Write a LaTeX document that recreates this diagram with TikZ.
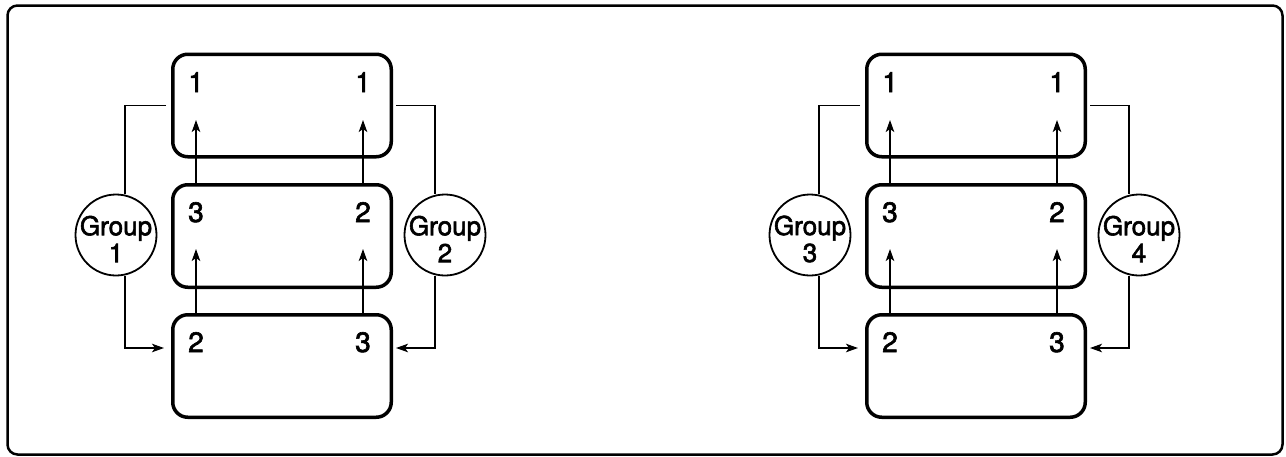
\documentclass[tikz,border=0pt]{standalone}
\usepackage{fontspec}
\setmainfont{TeX Gyre Heros}
\newfontfamily\lblfont[FakeBold=2.2]{TeX Gyre Heros}
\usetikzlibrary{arrows.meta}
\tikzset{
  box/.style={draw, line width=3.5pt, rounded corners=15pt, minimum width=218.5pt, minimum height=102.5pt, inner sep=0pt},
  digit/.style={font=\lblfont\fontsize{28}{28}\selectfont, anchor=base, inner sep=0pt},
  grp/.style={draw, circle, line width=1.8pt, minimum size=81pt, inner sep=0pt, fill=white},
  grptext/.style={font=\lblfont\fontsize{26}{27}\selectfont, align=center, inner sep=0pt},
  arr/.style={line width=1.5pt, -{Stealth[length=12pt,width=8.5pt,inset=3pt]}},
  conn/.style={line width=1.5pt},
  frame/.style={line width=2.5pt, rounded corners=10pt}
}
\newcommand\drawpanel[4]{%
\begin{scope}[xshift=#2pt]
  \node[box] (#1top) at (282,105.5) {};
  \node[box] (#1mid) at (282,236) {};
  \node[box] (#1bot) at (282,366) {};
  \node[digit] (#1tl) at (196,92) {1};
  \node[digit] (#1tr) at (363,92) {1};
  \node[digit] (#1ml) at (196,222) {3};
  \node[digit] (#1mr) at (363,222) {2};
  \node[digit] (#1bl) at (196,352) {2};
  \node[digit] (#1br) at (363,352) {3};
  \coordinate (#1atl) at (196,120);
  \coordinate (#1atr) at (363,120);
  \coordinate (#1aml) at (196,249);
  \coordinate (#1amr) at (363,249);
  \draw[arr] (#1mid.north -| #1atl) -- (#1atl);
  \draw[arr] (#1mid.north -| #1atr) -- (#1atr);
  \draw[arr] (#1bot.north -| #1aml) -- (#1aml);
  \draw[arr] (#1bot.north -| #1amr) -- (#1amr);
  \node[grp] (#1g1) at (116,235) {};
  \node[grptext] (#1g1t) at (116,239) {Group\\#3};
  \node[grp] (#1g2) at (445,235) {};
  \node[grptext] (#1g2t) at (445,239) {Group\\#4};
  \draw[conn] ([xshift=-5pt]#1top.west) -| ([xshift=9pt]#1g1.north);
  \draw[conn,arr] ([xshift=9pt]#1g1.south) |- ([xshift=-7pt,yshift=18pt]#1bot.west);
  \draw[conn] ([xshift=3pt]#1top.east) -| ([xshift=-10pt]#1g2.north);
  \draw[conn,arr] ([xshift=-10pt]#1g2.south) |- ([xshift=3pt,yshift=18pt]#1bot.east);
\end{scope}}
\begin{document}
\begin{tikzpicture}[x=1pt,y=-1pt]
  \useasboundingbox (0,0) rectangle (1286,456);
  \draw[frame] (7.5,5.5) rectangle (1282.5,454.5);
  \drawpanel{L}{0}{1}{2}
  \drawpanel{R}{694}{3}{4}
\end{tikzpicture}
\end{document}
